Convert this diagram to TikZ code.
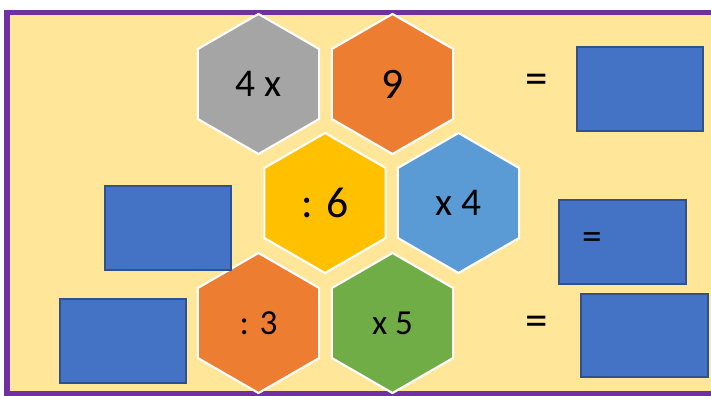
\documentclass[tikz,border=0pt]{standalone}
\usepackage{fontspec}
\setmainfont{Carlito}
\usepackage{xcolor}
\usetikzlibrary{shapes.geometric, positioning}

\definecolor{framepurple}{HTML}{7030A0}
\definecolor{paleyellow}{HTML}{FFE699}
\definecolor{cellgray}{HTML}{A5A5A5}
\definecolor{cellorange}{HTML}{ED7D31}
\definecolor{cellgold}{HTML}{FFC000}
\definecolor{cellblue}{HTML}{5B9BD5}
\definecolor{cellgreen}{HTML}{70AD47}
\definecolor{boxblue}{HTML}{4472C4}
\definecolor{boxedge}{HTML}{2F528F}

\begin{document}
\begin{tikzpicture}[
    x=0.025cm, y=-0.025cm,
    hexcell/.style={regular polygon, regular polygon sides=6, shape border rotate=30, minimum size=3.5cm, inner sep=0pt, draw=white, line width=1.5pt, text=black},
    answerbox/.style={rectangle, draw=boxedge, fill=boxblue, line width=1.1pt, inner sep=0pt},
    eqsign/.style={font=\fontsize{32}{34}\selectfont, inner sep=0pt}
]
\useasboundingbox (0,0) rectangle (711,395);

% Background frame
\draw[framepurple, line width=3.6pt, fill=paleyellow] (7,12.5) rectangle (740,394);

% Hexagon cells
\node[hexcell, fill=cellgray, font=\fontsize{28}{30}\selectfont] (fourx) at (258.5,84) {4 x};
\node[hexcell, fill=cellorange, font=\fontsize{31}{33}\selectfont] (nine) at (392.5,84) {9};
\node[hexcell, fill=cellgold, font=\fontsize{31}{33}\selectfont] (divsix) at (325,203) {: 6};
\node[hexcell, fill=cellblue, font=\fontsize{28}{30}\selectfont] (timesfour) at (458.5,203) {x 4};
\node[hexcell, fill=cellorange, font=\fontsize{25}{27}\selectfont] (divthree) at (258.5,323) {: 3};
\node[hexcell, fill=cellgreen, font=\fontsize{25}{27}\selectfont] (timesfive) at (392.5,323) {x 5};

% Answer boxes
\node[answerbox, minimum width=126*0.025cm, minimum height=84*0.025cm] (boxtop) at (640,89) {};
\node[answerbox, minimum width=126*0.025cm, minimum height=84*0.025cm] (boxleft) at (168,228) {};
\node[answerbox, minimum width=127*0.025cm, minimum height=84*0.025cm] (boxmid) at (622.5,242) {};
\node[answerbox, minimum width=126*0.025cm, minimum height=84*0.025cm] (boxlow) at (123,341) {};
\node[answerbox, minimum width=127*0.025cm, minimum height=83*0.025cm] (boxright) at (644.5,335.5) {};

% Equals signs
\node[eqsign] (eqtop) at (537,84) {=};
\node[eqsign, font=\fontsize{28}{30}\selectfont] (eqmid) at (592,241) {=};
\node[eqsign] (eqlow) at (537,326) {=};

\end{tikzpicture}
\end{document}
